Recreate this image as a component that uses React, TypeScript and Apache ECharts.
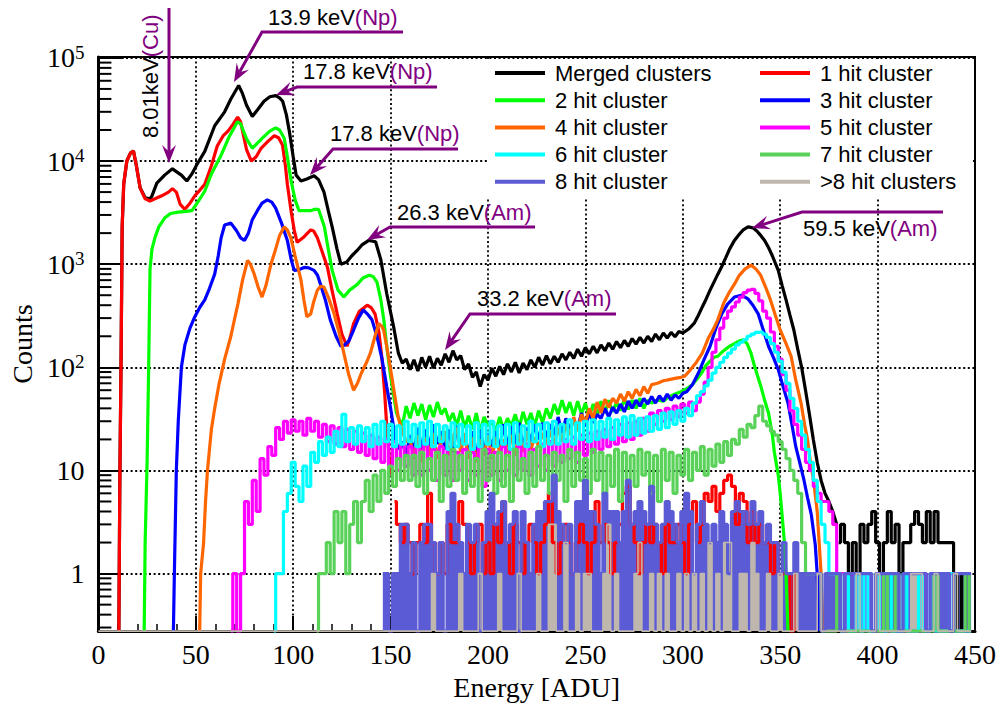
import React, { useEffect, useRef } from 'react';
import * as echarts from 'echarts';

const Y_MIN = 0.277;
const Y_MAX = 1.02e5;
const BIN = 2;
const SERIF = '"Liberation Serif", "Times New Roman", serif';
const SANS = '"Liberation Sans", Arial, Helvetica, sans-serif';
const PURPLE = '#800080';

const legendLeft = ['Merged clusters', '2 hit cluster', '4 hit cluster', '6 hit cluster', '8 hit cluster'];
const legendRight = ['1 hit cluster', '3 hit cluster', '5 hit cluster', '7 hit cluster', '>8 hit clusters'];
const yMantissas = [2, 3, 4, 5, 6, 7, 8, 9];
const yDecades = [0.1, 1, 10, 100, 1000, 10000];

// ---------- Merged clusters (black) ----------
const mergedLow: [number, number][] = [
  [10.5, 0], [11, 8], [11.6, 100], [12.2, 2300], [13, 6000], [14.6, 10000], [16.5, 12000], [18, 12500],
  [19.5, 9000], [21.4, 5500], [24, 4400], [26.5, 4300], [27.5, 4600], [30, 6100], [34, 7300], [38, 8400],
  [42.6, 7300], [45.4, 6400], [48, 7500], [50.5, 9200], [54.6, 12400], [59.7, 22000], [64.8, 30000],
  [68, 40000], [72, 54000], [74, 45000], [76, 35000], [79, 27000], [82, 32000], [85, 38000], [88, 42000],
  [91, 43000], [93, 41000], [94.6, 38000], [96.5, 28000], [98, 19500], [100, 11000], [101.5, 7300],
  [104, 6400], [107, 6700], [110.7, 7200], [113, 6600], [115.8, 5000], [118, 3300], [120, 2300],
  [122.5, 1400], [124.5, 1000], [127.5, 1050], [130, 1200], [132.7, 1350], [135.5, 1550], [138.8, 1700],
  [142.3, 1650], [145, 1100], [148, 520], [151.5, 250], [154, 137], [156, 110],
];
const mergedMidStart = 158;
const mergedMid = [
  120, 95, 118, 92, 125, 100, 128, 98, 122, 105, 135, 112,
  145, 118, 130, 95, 108, 80, 90, 65, 85, 75, 98, 82,
  102, 85, 108, 90, 112, 88, 110, 95, 118, 100, 125, 105,
  130, 108, 128, 112, 135, 118, 140, 122, 150, 128, 155, 135,
  160, 138, 165, 145, 172, 150, 178, 155, 182, 160, 190, 168,
  195, 172, 200, 178, 210, 185, 215, 192, 218, 198, 222,
];
const mergedHigh: [number, number][] = [
  [300, 215], [303, 235], [306, 270], [308, 320], [310, 385], [312, 460], [314, 560], [316, 670],
  [318, 800], [320, 950], [322, 1150], [324, 1400], [326.5, 1700], [329, 1950], [331, 2150],
  [333.5, 2300], [336, 2250], [338, 2100], [340, 1900], [342, 1700], [344, 1450], [346, 1200],
  [349, 870], [351, 620], [353, 450], [355, 320], [357, 230], [359, 150], [361, 100], [363, 60],
  [365, 35], [367, 20], [369, 12], [371, 8], [373, 6], [375, 5], [377, 4], [379, 3],
];
const mergedTailStart = 380;
const mergedTail = [
  2, 3, 2, 1, 2, 1, 3, 2, 3, 4, 2, 1, 2, 4, 2, 3, 1, 2, 2, 3, 4, 3, 2, 4, 2, 4, 2, 2, 2, 2, 1, 0, 1, 0, 0,
];

// ---------- 1 hit (red) ----------
const redLow: [number, number][] = [
  [10.5, 0], [11, 8], [11.6, 100], [12.2, 2300], [13, 6000], [14.6, 10000], [16.5, 12000], [18, 12500],
  [19.5, 9000], [21.4, 5500], [24, 4300], [26.5, 4100], [29, 4300], [32.5, 4600], [36, 5000], [38, 5400],
  [40, 5000], [42, 3800], [44.4, 3400], [47, 3900], [49.5, 4600], [52, 5200], [54.6, 5950], [58, 9000],
  [61, 14000], [64, 17500], [66.5, 19500], [69, 22500], [71.5, 26600], [73, 24000], [76, 13000],
  [78.5, 10000], [81, 11000], [83.5, 13300], [87, 15500], [90.3, 17600], [92.5, 16800], [94.5, 14300],
  [96, 9000], [97, 5950], [99, 3200], [100.5, 2150], [102, 1630], [105, 1800], [109, 2150], [110.5, 2100],
  [112.4, 1800], [115, 1300], [117.6, 930], [120, 550], [122.6, 330], [125, 210], [127.6, 160], [129, 190],
  [131, 265], [134, 350], [138, 400], [140, 380], [142, 330], [144, 220], [145.6, 120], [147, 55],
  [148, 27], [150, 9],
];
const redTailStart = 152;
const redTail = [
  5, 3, 2, 3, 2, 1, 2, 3, 2, 6, 2, 1,
  2, 1, 3, 2, 2, 5, 3, 2, 1, 2, 3, 1,
  2, 1, 3, 2, 5, 2, 1, 3, 2, 1, 2, 3,
  2, 1, 2, 3, 6, 2, 1, 2, 3, 2, 1, 2,
  3, 2, 1, 2, 5, 2, 3, 2, 1, 2, 3, 6,
  7, 3, 2, 1, 2, 3, 2, 3, 2, 1, 3, 2,
  2, 3, 2, 1, 3, 5, 2, 3, 6, 5, 7, 4,
  6, 8, 9, 7, 3, 6, 5, 2, 4, 2, 3, 2,
  2, 1, 2, 1, 1, 1, 0, 1,
];

// ---------- 2 hit (green) ----------
const greenLow: [number, number][] = [
  [23.5, 0], [24, 2], [25, 12], [25.8, 100], [26.5, 900], [27.5, 1400], [29, 1800], [31, 2300],
  [34, 2800], [37, 3100], [41, 3200], [45, 3250], [48, 3300], [51, 4000], [54.6, 5100], [58, 7500],
  [63, 11400], [67, 17000], [71.4, 24000], [73, 23000], [76, 16500], [79, 13300], [81, 14500],
  [84, 16600], [88, 19500], [91, 21000], [93, 20000], [95.4, 16600], [97, 11000], [99, 6300],
  [101, 4200], [103, 3300], [106, 3300], [109, 3300], [111, 3400], [113, 3400], [116, 2300],
  [118, 1400], [120, 870], [123, 560], [126, 480], [129, 560], [133, 640], [136, 740], [139, 780],
  [141, 760], [143, 670], [145, 450], [146.5, 290], [148, 160], [150, 82], [153, 36], [156, 27],
];
const greenMidStart = 158;
const greenMid = [
  42, 32, 45, 34, 44, 31, 43, 33, 46, 35, 40, 30,
  36, 27, 38, 26, 34, 25, 36, 24, 33, 27, 30, 24,
  33, 25, 32, 27, 35, 26, 37, 28, 36, 27, 38, 29,
  40, 32, 44, 35, 48, 36, 46, 34, 47, 35, 45, 33,
  44, 34, 47, 36, 48, 37, 46, 38, 49, 39, 48, 40,
  50, 40, 48,
];
const greenHigh: [number, number][] = [
  [284, 45], [287, 48], [290, 47], [293, 52], [296, 55], [299, 58], [302, 62], [305, 68], [308, 80],
  [310, 90], [312, 105], [314, 115], [316, 125], [318, 128], [320, 140], [322, 150], [324, 160],
  [326.5, 170], [329, 180], [331, 185], [333, 170], [335, 137], [337, 100], [340, 66], [342, 48],
  [344, 36], [346, 22], [347, 15], [349, 9], [350, 6], [352, 2.2], [353, 1], [354, 0],
];

// ---------- 3 hit (blue) ----------
const blueLow: [number, number][] = [
  [38.5, 0], [39, 1], [40, 10], [41, 30], [42.6, 100], [44.4, 165], [47, 240], [49.5, 310], [52, 380],
  [54.6, 450], [57, 580], [59.7, 800], [61.5, 1200], [63, 1800], [64.8, 2400], [68, 2500], [71, 2100],
  [73, 1800], [75, 1700], [77, 2000], [79, 2700], [81.6, 3300], [84, 3900], [86.7, 4200], [89, 4000],
  [91, 3500], [94, 2500], [97, 1700], [99, 1100], [100.5, 870], [102.5, 880], [105.6, 930], [108, 920],
  [110.7, 870], [112.5, 780], [114, 640], [116.5, 450], [119, 290], [122, 200], [124.5, 160],
  [126.5, 165], [128.6, 180], [131, 230], [133.5, 300], [136, 360], [138, 330], [140.4, 290],
  [143, 200], [145.6, 120], [148, 65], [150, 40], [152.5, 20], [154, 16],
];
const blueMidStart = 156;
const blueMid = [
  19, 14, 22, 15, 26, 16, 25, 17, 28, 18, 24, 16,
  25, 15, 27, 16, 22, 14, 24, 13, 25, 15, 23, 17,
  24, 16, 28, 17, 27, 18, 29, 16, 26, 19, 28, 20,
  29, 21, 28, 22, 33, 23, 32, 25, 31, 26, 36, 27,
  36, 29, 35, 32, 40, 33, 41, 36, 44, 37, 47, 40,
  48, 42, 50, 44, 52, 45, 53, 47, 55, 48, 54, 50,
  56,
];
const blueHigh: [number, number][] = [
  [302, 58], [305, 68], [308, 88], [311, 120], [314, 160], [317, 240], [320, 330], [323, 410],
  [326.5, 480], [330, 500], [333.5, 460], [336, 400], [338.7, 330], [341, 240], [344, 160],
  [346.5, 125], [349, 95], [351.5, 65], [354, 45], [356, 28], [358, 17], [360, 12], [362, 8.4],
  [364, 5.5], [366, 3.7], [368, 1.9], [369, 1], [370, 0],
];

// ---------- 4 hit (orange) ----------
const orangeLow: [number, number][] = [
  [52, 0], [52.5, 1], [54, 2], [55, 5], [56, 10], [58, 25], [59.7, 40], [62, 70], [64.8, 120], [68, 200],
  [70, 300], [71.6, 410], [74, 700], [76.6, 1090], [78, 1000], [80, 800], [82, 600], [84, 480], [86, 620],
  [88.6, 1000], [91, 1400], [93, 1900], [95.4, 2300], [97, 2150], [98.8, 1800], [101, 1200], [104, 700],
  [105.5, 450], [107, 310], [109, 330], [110.5, 430], [112.4, 560], [114, 610], [115.8, 600], [118, 480],
  [121, 330], [123.5, 220], [126, 137], [128.5, 85], [131, 60], [133, 70], [135, 88], [137.5, 110],
  [139.6, 137], [142, 200], [143.9, 265], [145.5, 250], [146.4, 230], [148, 160], [150, 95], [152, 55],
  [154, 32], [156, 24], [158, 19],
];
const orangeMidStart = 160;
const orangeMid = [
  20, 13, 22, 12, 21, 14, 23, 13, 20, 24, 14, 21,
  26, 15, 23, 13, 21, 12, 20, 14, 22, 13, 21, 15,
  20, 15, 22, 14, 23, 15, 24, 16, 21, 17, 23, 18,
  24, 18, 26, 19, 28, 22, 33, 24, 35, 29, 40, 32,
  46, 36, 49, 41, 50, 45, 55, 47, 58, 50, 61, 53,
  65, 56,
];
const orangeHigh: [number, number][] = [
  [284, 68], [287, 70], [290, 74], [293, 76], [296, 78], [299, 80], [301, 82], [304, 95], [307, 112],
  [310, 137], [313, 190], [316, 240], [318, 290], [321, 420], [324, 540], [326.5, 640], [329, 780],
  [332, 900], [335, 980], [337.5, 900], [340, 780], [342.5, 600], [345, 450], [347.5, 320], [350, 230],
  [353, 170], [355.6, 128], [358, 75], [360.7, 45], [362.5, 28], [364, 20], [365.5, 12], [367, 8.4],
  [369, 4], [370, 2], [371, 1], [372, 0],
];

// ---------- 5 hit (magenta) ----------
const hit5Start = 68;
const hit5 = [
  0, 1, 0, 1, 5, 3, 8, 4, 13, 9, 17, 14,
  26, 20, 30, 23, 31, 24, 30, 22, 32, 24, 30, 21,
  28, 19, 27, 18, 26, 17, 25, 16, 24, 15, 23, 14,
  22, 13, 21, 12, 20, 11, 19, 10, 18, 11, 17, 9,
  17, 9, 18, 10, 16, 8, 17, 9, 16, 8, 15, 10,
  16, 8, 15, 9, 17, 7, 16, 9, 15, 8, 17, 10,
  16, 9, 17, 10, 18, 9, 16, 11, 18, 10, 19, 11,
  18, 12, 20, 13, 21, 12, 22, 14, 23, 15, 24, 16,
  25, 17, 26, 18, 28, 19, 29, 20, 30, 22, 32, 24,
  36, 28, 38, 30, 40, 31, 42, 33, 44, 36, 46, 38,
  46, 55, 72, 100, 140, 185, 240, 300, 350, 385, 430, 480,
  530, 560, 570, 520, 440, 350, 300, 220, 160, 120, 85, 60,
  38, 28, 22, 16, 12, 10, 7, 6, 5, 5, 4, 3,
  1, 1, 0, 1, 1, 0, 0, 1, 0, 0, 0, 1,
  0, 0, 0, 0, 0, 0, 0, 0, 0, 0, 1, 0,
  1, 0, 0, 0, 0, 0, 0, 0, 0, 0, 0,
];

// ---------- 6 hit (cyan) ----------
const hit6Start = 90;
const hit6 = [
  0, 1, 1, 4, 6, 12, 7, 5, 11, 7, 15, 12,
  19, 14, 21, 15, 24, 17, 35, 19, 26, 18, 27, 19,
  26, 17, 28, 18, 30, 19, 28, 17, 27, 18, 30, 19,
  28, 17, 29, 18, 30, 17, 28, 19, 27, 16, 29, 17,
  28, 18, 27, 16, 29, 17, 28, 18, 30, 17, 27, 18,
  28, 16, 29, 18, 27, 17, 30, 19, 28, 17, 29, 18,
  30, 18, 28, 19, 31, 18, 29, 20, 30, 19, 31, 20,
  30, 21, 32, 20, 31, 22, 33, 21, 34, 22, 32, 23,
  33, 24, 34, 25, 36, 26, 37, 28, 38, 30, 40, 34,
  45, 53, 58, 66, 75, 88, 100, 112, 125, 137, 150, 165,
  175, 185, 200, 210, 218, 220, 210, 195, 170, 140, 115, 90,
  70, 50, 40, 30, 22, 16, 12, 8, 5, 3, 2, 1,
  1, 1, 0, 1, 0, 0, 1, 0, 1, 0, 0, 1,
  0, 0, 1, 0, 0, 0, 1, 0, 0, 0, 1, 0,
  0, 1, 0, 0, 0, 0, 1, 0, 0, 0, 0, 0,
];

// ---------- 7 hit (light green) ----------
const hit7Start = 112;
const hit7 = [
  0, 1, 1, 2, 1, 4, 2, 4, 1, 3, 5, 2,
  5, 8, 4, 9, 5, 10, 6, 11, 7, 13, 8, 14,
  8, 14, 7, 15, 6, 13, 8, 15, 5, 14, 7, 16,
  8, 14, 6, 15, 7, 13, 5, 16, 8, 14, 6, 15,
  7, 14, 5, 16, 8, 13, 6, 15, 7, 17, 8, 14,
  6, 15, 8, 14, 5, 16, 7, 15, 8, 13, 6, 16,
  8, 15, 6, 14, 7, 16, 5, 15, 8, 14, 7, 16,
  9, 15, 6, 14, 5, 16, 8, 15, 6, 14, 9, 16,
  8, 15, 10, 17, 9, 16, 11, 18, 12, 19, 14, 20,
  18, 25, 21, 28, 26, 34, 42, 30, 27, 24, 22, 19,
  16, 13, 10, 8, 6, 2, 1, 1, 1, 1, 0, 0,
  0, 0, 1, 0, 0, 0, 0, 0, 0, 0, 0, 0,
  0, 0, 1, 0, 0, 1, 0, 0, 0, 0, 0, 0,
  0, 0, 0, 1, 0, 0, 0, 0, 0, 0, 0, 1, 0,
];

// ---------- 8 hit (slate blue) ----------
const hit8Start = 146;
const hit8 = [
  1, 1, 0, 1, 1, 3, 3, 1, 2, 0, 2, 3,
  3, 2, 1, 2, 0, 4, 6, 3, 2, 1, 3, 2,
  3, 0, 2, 4, 6, 3, 4, 5, 2, 3, 4, 0,
  4, 2, 1, 3, 4, 4, 5, 5, 9, 4, 3, 2,
  3, 1, 5, 5, 8, 4, 4, 3, 1, 6, 4, 4,
  4, 2, 4, 8, 3, 4, 5, 4, 3, 7, 3, 2,
  3, 5, 4, 3, 2, 4, 6, 4, 1, 3, 5, 3,
  2, 3, 2, 4, 3, 1, 4, 5, 4, 4, 3, 5,
  3, 4, 2, 3, 2, 2, 1, 2, 1, 1, 2, 1,
  1, 1, 1, 1, 1, 0, 1, 1, 1, 1, 0, 1,
  1, 1, 1, 1, 1, 1, 0, 1, 1, 1, 1, 1,
  1, 0, 1, 1, 1, 1, 1, 1, 0, 1, 1, 1,
  1, 1, 0, 1, 1, 1, 1, 1,
];

// ---------- >8 hit (grey) ----------
const hitMoreStart = 170;
const hitMore = [
  0, 1, 0, 0, 0, 0, 0, 0, 1, 0, 0, 0,
  0, 1, 0, 0, 0, 0, 1, 0, 0, 0, 0, 1,
  0, 0, 0, 0, 1, 0, 0, 3, 3, 0, 0, 2,
  0, 0, 1, 0, 1, 1, 0, 0, 0, 1, 3, 0,
  1, 0, 0, 0, 0, 1, 2, 0, 0, 1, 0, 1,
  0, 1, 0, 0, 1, 0, 1, 0, 1, 0, 1, 0,
  2, 0, 1, 0, 2, 2, 0, 0, 1, 1, 0, 2,
  1, 0, 0, 1, 0, 0, 1, 0, 0, 0, 1, 0,
  0, 0, 0, 0, 1, 0, 0, 0, 0, 0, 0, 0,
  0, 0, 1, 0, 0, 0, 0, 1, 0, 0, 0, 0,
  0, 0, 0, 0, 1, 1, 1, 0, 0, 0, 1, 0,
  0, 0, 0, 1, 0, 0, 0, 0,
];

const seg = (start: number, vals: number[]): [number, number][] =>
  vals.map((v, i) => [start + i * BIN, v] as [number, number]);
const floorZero = (pts: [number, number][]) => pts.map(([e, v]) => [e, v > 0 ? v : Y_MIN]);

type Spec = { name: string; color: string; line?: [number, number][]; tail?: [number, number][]; fill?: boolean; width?: number };
const specs: Spec[] = [
  { name: 'Merged clusters', color: '#000000', line: [...mergedLow, ...seg(mergedMidStart, mergedMid), ...mergedHigh], tail: seg(mergedTailStart, mergedTail) },
  { name: '1 hit cluster', color: '#ff0000', line: redLow, tail: seg(redTailStart, redTail) },
  { name: '2 hit cluster', color: '#00ff00', line: [...greenLow, ...seg(greenMidStart, greenMid), ...greenHigh] },
  { name: '3 hit cluster', color: '#0000ff', line: [...blueLow, ...seg(blueMidStart, blueMid), ...blueHigh] },
  { name: '4 hit cluster', color: '#ff6600', line: [...orangeLow, ...seg(orangeMidStart, orangeMid), ...orangeHigh] },
  { name: '5 hit cluster', color: '#ff00ff', tail: seg(hit5Start, hit5) },
  { name: '6 hit cluster', color: '#00ffff', tail: seg(hit6Start, hit6) },
  { name: '7 hit cluster', color: '#5ad25a', tail: seg(hit7Start, hit7) },
  { name: '8 hit cluster', color: '#5b5bd6', tail: seg(hit8Start, hit8), fill: true },
  { name: '>8 hit clusters', color: '#bfb7ad', tail: [[0, 0], ...seg(hitMoreStart, hitMore)], fill: true, width: 1.6 },
];

function buildSeries() {
  const out: any[] = [];
  specs.forEach((s) => {
    const base: any = {
      type: 'line',
      name: s.name,
      showSymbol: false,
      symbol: 'none',
      color: s.color,
      itemStyle: { color: s.color },
      lineStyle: { color: s.color, width: s.width ?? 3.2 },
      emphasis: { disabled: true },
      silent: true,
      animation: false,
    };
    if (s.line) out.push({ ...base, data: floorZero(s.line) });
    if (s.tail) {
      const t: any = { ...base, step: 'middle', data: floorZero(s.tail) };
      if (s.fill) t.areaStyle = { color: s.color, opacity: 1, origin: 'start' };
      out.push(t);
    }
  });
  const minor: number[][] = [];
  yDecades.forEach((d) => yMantissas.forEach((m) => {
    const v = m * d;
    if (v >= Y_MIN && v <= Y_MAX) minor.push([0, v]);
  }));
  out.push({
    type: 'custom',
    silent: true,
    clip: false,
    z: 5,
    data: minor,
    encode: { x: 0, y: 1 },
    renderItem: (_p: any, api: any) => {
      const pt = api.coord([0, api.value(1)]);
      return {
        type: 'line',
        shape: { x1: pt[0], y1: pt[1], x2: pt[0] + 13, y2: pt[1] },
        style: { stroke: '#000', lineWidth: 2 },
      };
    },
  });
  return out;
}

function arrow(pts: number[][]) {
  const [tx, ty] = pts[pts.length - 1];
  const [fx, fy] = pts[pts.length - 2];
  const dx = tx - fx, dy = ty - fy;
  const len = Math.hypot(dx, dy);
  const ux = dx / len, uy = dy / len;
  const nx = -uy, ny = ux;
  const L = 18, W = 7;
  const bx = tx - ux * L, by = ty - uy * L;
  const notch = [tx - ux * L * 0.62, ty - uy * L * 0.62];
  return [
    { type: 'polyline', z: 20, silent: true, shape: { points: [...pts.slice(0, -1), notch] }, style: { stroke: PURPLE, lineWidth: 3, fill: null } },
    { type: 'polygon', z: 20, silent: true, shape: { points: [[tx, ty], [bx + nx * W, by + ny * W], notch, [bx - nx * W, by - ny * W]] }, style: { fill: PURPLE } },
  ];
}

function label(x: number, y: number, main: string, tag: string, rotation = 0) {
  return {
    type: 'text', z: 20, silent: true, x, y, rotation,
    style: {
      text: `${main}{p|${tag}}`,
      fill: '#000', fontSize: 22, fontFamily: SANS,
      textAlign: 'left', textVerticalAlign: 'middle', verticalAlign: 'middle',
      rich: { p: { fill: PURPLE, fontSize: 22, fontFamily: SANS } },
    },
  };
}

function buildGraphic() {
  return [
    { type: 'rect', z: 1, silent: true, shape: { x: 487, y: 59, width: 486, height: 138 }, style: { fill: '#ffffff' } },
    label(150, 138, '8.01keV', '(Cu)', Math.PI / 2),
    ...arrow([[169, 8], [169, 163]]),
    label(268, 17, '13.9 keV', '(Np)'),
    ...arrow([[403, 32], [262, 32], [234, 82]]),
    label(303, 71, '17.8 keV', '(Np)'),
    ...arrow([[437, 87], [297, 87], [276, 95]]),
    label(330, 133, '17.8 keV', '(Np)'),
    ...arrow([[458, 149], [333, 149], [310, 175]]),
    label(397, 212, '26.3 keV', '(Am)'),
    ...arrow([[535, 227], [390, 227], [367, 240]]),
    label(477, 298, '33.2 keV', '(Am)'),
    ...arrow([[616, 314], [470, 314], [445, 350]]),
    label(803, 228, '59.5 keV', '(Am)'),
    ...arrow([[943, 212], [802, 212], [752, 228]]),
  ];
}

const gridLine = { show: true, lineStyle: { color: '#000', width: 1.8, type: [2, 2.6] as any } };

function yLabel(v: number) {
  const e = Math.log10(v);
  const r = Math.round(e);
  if (Math.abs(e - r) > 1e-6) return '';
  if (r === 0) return '1';
  if (r === 1) return '10';
  return `10{s|${r}}`;
}

function legendCfg(data: string[], left: number) {
  return {
    data, left, top: 62, orient: 'vertical', icon: 'rect', itemWidth: 50, itemHeight: 4, itemGap: 5.2,
    padding: 0, selectedMode: false,
    textStyle: { fontFamily: SANS, fontSize: 22, color: '#000', lineHeight: 22, padding: [0, 0, 0, 5] },
  };
}

export default function App() {
  const ref = useRef<HTMLDivElement>(null);
  useEffect(() => {
    const chart = echarts.init(ref.current!, null, { renderer: 'svg' });
    chart.setOption({
      animation: false,
      backgroundColor: '#ffffff',
      grid: { left: 93, top: 57, right: 28, bottom: 69, show: true, borderColor: '#000', borderWidth: 2, backgroundColor: 'transparent' },
      legend: [legendCfg(legendLeft, 495), legendCfg(legendRight, 760)],
      xAxis: {
        type: 'value', min: 0, max: 450, interval: 50,
        axisLine: { show: true, onZero: false, lineStyle: { color: '#000', width: 3 } },
        axisTick: { show: true, inside: true, length: 15, lineStyle: { color: '#000', width: 2 } },
        minorTick: { show: true, splitNumber: 5, length: 7, lineStyle: { color: '#000', width: 1.5 } },
        axisLabel: { fontFamily: SERIF, fontSize: 28, color: '#000', margin: 9 },
        splitLine: gridLine,
        name: 'Energy [ADU]', nameLocation: 'middle', nameGap: 38,
        nameTextStyle: { fontFamily: SERIF, fontSize: 28, color: '#000' },
      },
      yAxis: {
        type: 'log', logBase: 10, min: Y_MIN, max: Y_MAX,
        axisLine: { show: true, lineStyle: { color: '#000', width: 3 } },
        axisTick: { show: true, inside: true, length: 25, lineStyle: { color: '#000', width: 2 } },
        axisLabel: {
          formatter: yLabel, fontFamily: SERIF, fontSize: 28, color: '#000', margin: 14, lineHeight: 30,
          rich: { s: { fontFamily: SERIF, fontSize: 19, color: '#000', verticalAlign: 'top', lineHeight: 24 } },
        },
        splitLine: gridLine,
        name: 'Counts', nameLocation: 'middle', nameGap: 55,
        nameTextStyle: { fontFamily: SERIF, fontSize: 28, color: '#000' },
      },
      series: buildSeries(),
      graphic: buildGraphic(),
    });
    return () => chart.dispose();
  }, []);
  return <div ref={ref} style={{ position: 'absolute', left: 0, top: 0, width: 1003, height: 706, background: '#fff' }} />;
}
